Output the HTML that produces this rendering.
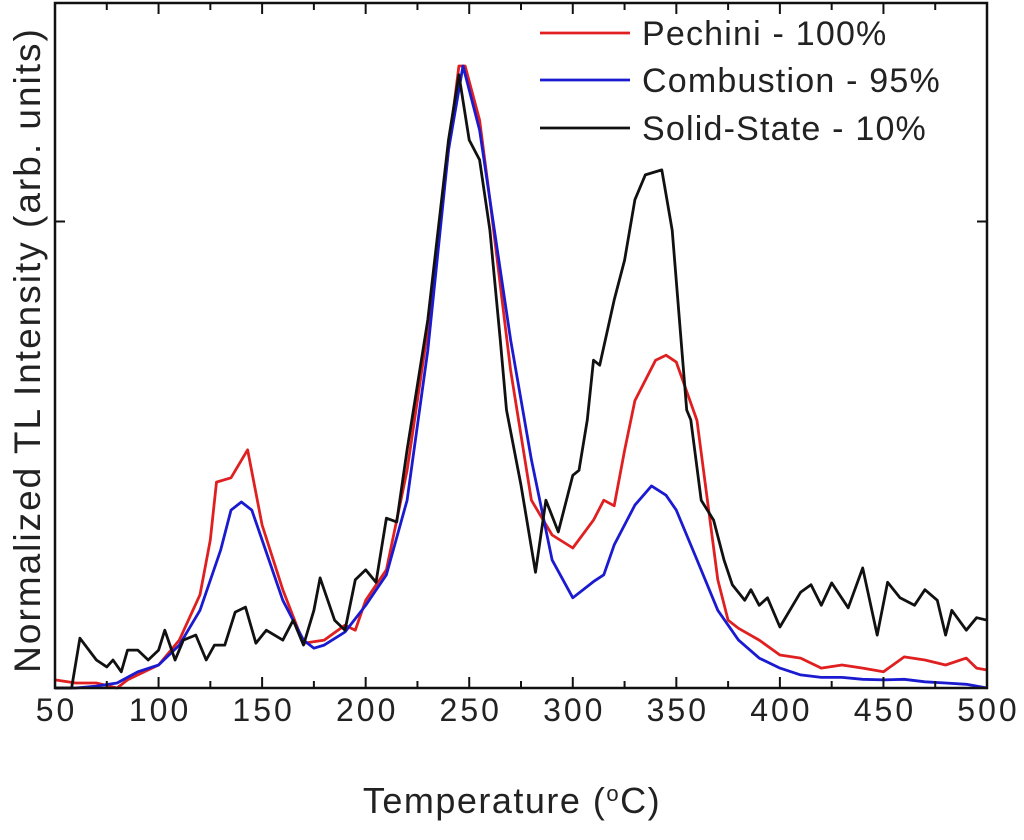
<!DOCTYPE html>
<html><head><meta charset="utf-8"><style>
body{margin:0;background:#fff;}
svg text{font-family:"Liberation Sans",sans-serif;fill:#222;}
</style></head><body>
<svg id="chart" width="1024" height="835" viewBox="0 0 1024 835" xmlns="http://www.w3.org/2000/svg">
<g id="plot"></g>
</svg>
<script>
const pechiniT=[50,60,70,80,85,90,100,110,120,125,128,135,143,150,160,170,180,190,195,200,210,220,230,240,245,248,255,260,270,280,290,300,310,315,320,325,330,340,345,350,360,365,370,375,380,390,400,410,420,430,440,450,460,470,480,490,495,500];
const pechiniY=[0.013,0.008,0.008,0,0.013,0.021,0.037,0.077,0.15,0.238,0.331,0.338,0.383,0.262,0.158,0.072,0.077,0.101,0.093,0.141,0.19,0.350,0.576,0.865,1.0,1.0,0.913,0.785,0.511,0.302,0.246,0.225,0.27,0.302,0.293,0.382,0.462,0.527,0.535,0.524,0.43,0.302,0.174,0.109,0.096,0.077,0.053,0.048,0.032,0.037,0.032,0.026,0.05,0.045,0.037,0.048,0.032,0.029];
const combT=[50,60,70,80,90,100,110,120,130,135,140,145,150,160,170,175,180,190,200,210,220,230,240,247,255,260,270,280,290,300,310,315,320,330,338,345,350,360,370,380,390,400,410,420,430,440,450,460,470,480,490,500];
const combY=[0,0,0.003,0.008,0.026,0.037,0.069,0.125,0.222,0.286,0.299,0.286,0.238,0.141,0.077,0.064,0.069,0.09,0.133,0.182,0.302,0.543,0.865,1.0,0.897,0.785,0.56,0.367,0.206,0.145,0.171,0.182,0.23,0.294,0.325,0.31,0.286,0.206,0.125,0.077,0.048,0.032,0.021,0.017,0.017,0.014,0.013,0.014,0.01,0.008,0.006,0];
const solidT=[50,58,62,70,75,78,82,85,90,95,100,103,108,112,118,123,127,132,137,142,147,152,160,165,170,175,178,185,190,195,200,205,210,215,220,230,240,245,250,255,260,265,268,275,282,287,293,300,303,307,310,313,320,325,330,335,343,348,355,357,362,368,373,377,383,386,390,394,400,410,415,420,425,433,440,447,452,458,465,470,476,480,483,490,495,500];
const solidY=[0,0,0.08,0.045,0.034,0.045,0.026,0.061,0.061,0.045,0.061,0.093,0.045,0.077,0.085,0.045,0.069,0.069,0.122,0.13,0.072,0.093,0.077,0.109,0.069,0.125,0.177,0.109,0.093,0.174,0.19,0.17,0.273,0.267,0.383,0.592,0.881,0.986,0.881,0.849,0.736,0.559,0.447,0.326,0.186,0.302,0.251,0.342,0.35,0.431,0.527,0.519,0.624,0.688,0.785,0.825,0.833,0.736,0.447,0.431,0.302,0.27,0.206,0.166,0.141,0.158,0.133,0.145,0.098,0.154,0.166,0.133,0.169,0.129,0.193,0.085,0.17,0.145,0.133,0.158,0.141,0.085,0.125,0.093,0.113,0.109];
const xTicks=[50,100,150,200,250,300,350,400,450,500];
const L=55,R=987,T=3,B=688;
function xs(v){return L+(v-50)*(R-L)/450;}
function ys(v){return B-v*622;}
const ns="http://www.w3.org/2000/svg";
const g=document.getElementById('plot');
function mk(tag,attrs){const e=document.createElementNS(ns,tag);for(const k in attrs)e.setAttribute(k,attrs[k]);g.appendChild(e);return e;}
function series(tx,ty,color,name){
  const d=tx.map((t,i)=>(i?'L':'M')+xs(t).toFixed(1)+','+ys(ty[i]).toFixed(1)).join('');
  const p=mk('path',{d:d,fill:'none',stroke:color,'stroke-width':2.8,'stroke-linejoin':'round'});
  
  
}
series(pechiniT,pechiniY,'#e02020','pechini-series');
series(combT,combY,'#1a1ad0','combustion-series');
series(solidT,solidY,'#111','solid-state-series');
const frame=mk('rect',{x:L,y:T,width:R-L,height:B-T,fill:'none',stroke:'#111','stroke-width':2.5});


for(let v=50;v<=500;v+=25){
  const x=xs(v),len=(v%50===0)?11:7;
  const t1=mk('line',{x1:x,y1:B,x2:x,y2:B-len,stroke:'#111','stroke-width':2});
  
  
  const t2=mk('line',{x1:x,y1:T,x2:x,y2:T+len,stroke:'#111','stroke-width':2});
  
  
}
xTicks.forEach(v=>{
  const t=mk('text',{x:xs(v)+1.5,y:721,'text-anchor':'middle','font-size':32,'letter-spacing':3});
  t.textContent=v;
  
  
});
[[L,L+10],[R,R-10]].forEach(p=>{
  const t=mk('line',{x1:p[0],y1:ys(0.75),x2:p[1],y2:ys(0.75),stroke:'#111','stroke-width':2});
  
  
});
const xt=mk('text',{x:512,y:813,'text-anchor':'middle','font-size':36,'letter-spacing':1.5});
xt.innerHTML='Temperature (<tspan baseline-shift="super" font-size="22">o</tspan>C)';


const yt=mk('text',{x:0,y:0,'text-anchor':'middle','font-size':37,'letter-spacing':2,transform:'translate(40,350) rotate(-90)'});
yt.textContent='Normalized TL Intensity (arb. units)';


const leg=[['Pechini - 100%','#e02020',45],['Combustion - 95%','#1a1ad0',92],['Solid-State - 10%','#111',140]];
leg.forEach(l=>{
  const ln=mk('line',{x1:540,y1:l[2]-12,x2:630,y2:l[2]-12,stroke:l[1],'stroke-width':2.8});
  
  
  const t=mk('text',{x:642,y:l[2],'font-size':34,'letter-spacing':1.2});
  t.textContent=l[0];
  
  
});
</script>
</body></html>
